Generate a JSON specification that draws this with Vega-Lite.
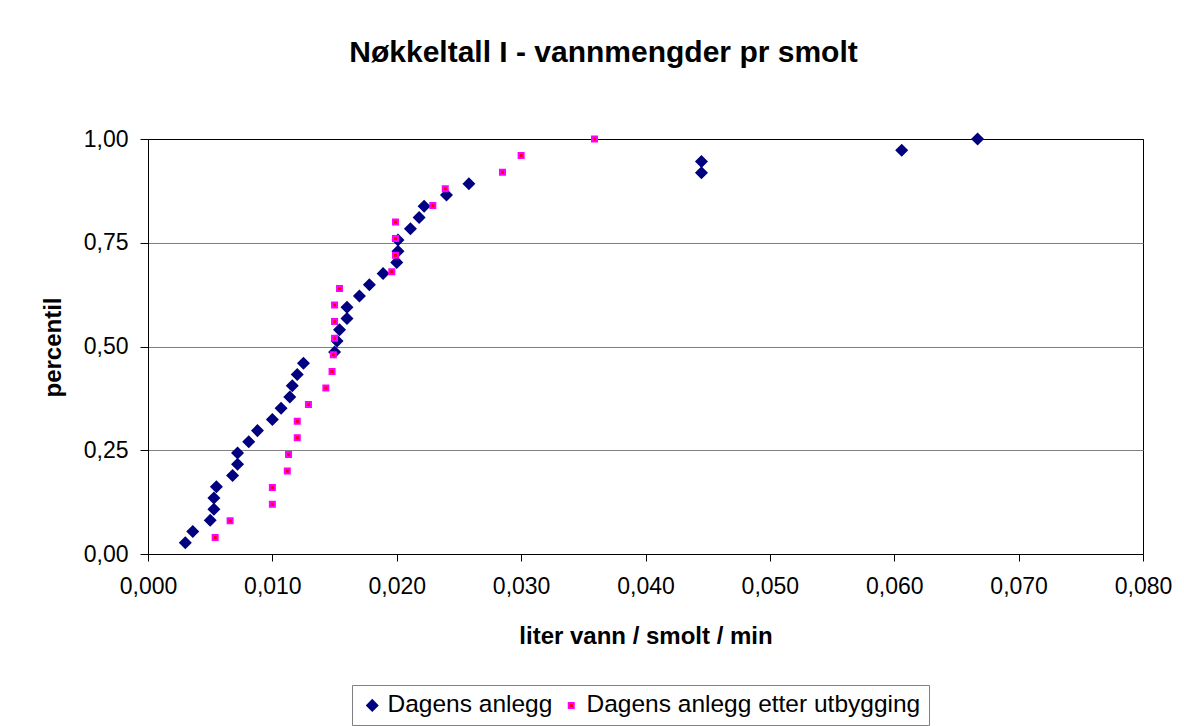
{
  "$schema": "https://vega.github.io/schema/vega-lite/v6.json",
  "width": 995,
  "height": 415,
  "autosize": {"type": "none"},
  "padding": {"left": 148, "top": 139, "right": 41, "bottom": 172},
  "background": "white",
  "config": {
    "font": "Liberation Sans",
    "view": {"stroke": "black", "strokeWidth": 1}
  },
  "title": {
    "text": "Nøkkeltall I  - vannmengder pr smolt",
    "fontSize": 30,
    "fontWeight": "bold",
    "font": "Liberation Sans",
    "color": "black",
    "anchor": "middle",
    "frame": "group",
    "baseline": "alphabetic",
    "offset": 36,
    "dx": -42
  },
  "data": {
    "values": [
      {"serie": "Dagens anlegg", "x": 0.0030, "y": 0.0270},
      {"serie": "Dagens anlegg", "x": 0.0036, "y": 0.0541},
      {"serie": "Dagens anlegg", "x": 0.0050, "y": 0.0811},
      {"serie": "Dagens anlegg", "x": 0.0053, "y": 0.1081},
      {"serie": "Dagens anlegg", "x": 0.0053, "y": 0.1351},
      {"serie": "Dagens anlegg", "x": 0.0055, "y": 0.1622},
      {"serie": "Dagens anlegg", "x": 0.0068, "y": 0.1892},
      {"serie": "Dagens anlegg", "x": 0.0072, "y": 0.2162},
      {"serie": "Dagens anlegg", "x": 0.0072, "y": 0.2432},
      {"serie": "Dagens anlegg", "x": 0.0081, "y": 0.2703},
      {"serie": "Dagens anlegg", "x": 0.0088, "y": 0.2973},
      {"serie": "Dagens anlegg", "x": 0.0100, "y": 0.3243},
      {"serie": "Dagens anlegg", "x": 0.0107, "y": 0.3514},
      {"serie": "Dagens anlegg", "x": 0.0114, "y": 0.3784},
      {"serie": "Dagens anlegg", "x": 0.0116, "y": 0.4054},
      {"serie": "Dagens anlegg", "x": 0.0120, "y": 0.4324},
      {"serie": "Dagens anlegg", "x": 0.0125, "y": 0.4595},
      {"serie": "Dagens anlegg", "x": 0.0150, "y": 0.4865},
      {"serie": "Dagens anlegg", "x": 0.0152, "y": 0.5135},
      {"serie": "Dagens anlegg", "x": 0.0154, "y": 0.5405},
      {"serie": "Dagens anlegg", "x": 0.0160, "y": 0.5676},
      {"serie": "Dagens anlegg", "x": 0.0160, "y": 0.5946},
      {"serie": "Dagens anlegg", "x": 0.0170, "y": 0.6216},
      {"serie": "Dagens anlegg", "x": 0.0178, "y": 0.6486},
      {"serie": "Dagens anlegg", "x": 0.0189, "y": 0.6757},
      {"serie": "Dagens anlegg", "x": 0.0200, "y": 0.7027},
      {"serie": "Dagens anlegg", "x": 0.0201, "y": 0.7297},
      {"serie": "Dagens anlegg", "x": 0.0201, "y": 0.7568},
      {"serie": "Dagens anlegg", "x": 0.0211, "y": 0.7838},
      {"serie": "Dagens anlegg", "x": 0.0218, "y": 0.8108},
      {"serie": "Dagens anlegg", "x": 0.0222, "y": 0.8378},
      {"serie": "Dagens anlegg", "x": 0.0240, "y": 0.8649},
      {"serie": "Dagens anlegg", "x": 0.0258, "y": 0.8919},
      {"serie": "Dagens anlegg", "x": 0.0445, "y": 0.9189},
      {"serie": "Dagens anlegg", "x": 0.0445, "y": 0.9459},
      {"serie": "Dagens anlegg", "x": 0.0606, "y": 0.9730},
      {"serie": "Dagens anlegg", "x": 0.0667, "y": 1.0},
      {"serie": "Dagens anlegg etter utbygging", "x": 0.0054, "y": 0.04},
      {"serie": "Dagens anlegg etter utbygging", "x": 0.0066, "y": 0.08},
      {"serie": "Dagens anlegg etter utbygging", "x": 0.0100, "y": 0.12},
      {"serie": "Dagens anlegg etter utbygging", "x": 0.0100, "y": 0.16},
      {"serie": "Dagens anlegg etter utbygging", "x": 0.0112, "y": 0.20},
      {"serie": "Dagens anlegg etter utbygging", "x": 0.0113, "y": 0.24},
      {"serie": "Dagens anlegg etter utbygging", "x": 0.0120, "y": 0.28},
      {"serie": "Dagens anlegg etter utbygging", "x": 0.0120, "y": 0.32},
      {"serie": "Dagens anlegg etter utbygging", "x": 0.0129, "y": 0.36},
      {"serie": "Dagens anlegg etter utbygging", "x": 0.0143, "y": 0.40},
      {"serie": "Dagens anlegg etter utbygging", "x": 0.0148, "y": 0.44},
      {"serie": "Dagens anlegg etter utbygging", "x": 0.0149, "y": 0.48},
      {"serie": "Dagens anlegg etter utbygging", "x": 0.0150, "y": 0.52},
      {"serie": "Dagens anlegg etter utbygging", "x": 0.0150, "y": 0.56},
      {"serie": "Dagens anlegg etter utbygging", "x": 0.0150, "y": 0.60},
      {"serie": "Dagens anlegg etter utbygging", "x": 0.0154, "y": 0.64},
      {"serie": "Dagens anlegg etter utbygging", "x": 0.0196, "y": 0.68},
      {"serie": "Dagens anlegg etter utbygging", "x": 0.0199, "y": 0.72},
      {"serie": "Dagens anlegg etter utbygging", "x": 0.0199, "y": 0.76},
      {"serie": "Dagens anlegg etter utbygging", "x": 0.0199, "y": 0.80},
      {"serie": "Dagens anlegg etter utbygging", "x": 0.0229, "y": 0.84},
      {"serie": "Dagens anlegg etter utbygging", "x": 0.0239, "y": 0.88},
      {"serie": "Dagens anlegg etter utbygging", "x": 0.0285, "y": 0.92},
      {"serie": "Dagens anlegg etter utbygging", "x": 0.0300, "y": 0.96},
      {"serie": "Dagens anlegg etter utbygging", "x": 0.0359, "y": 1.00}
    ]
  },
  "mark": {"type": "point", "filled": true, "strokeWidth": 2, "opacity": 1},
  "encoding": {
    "x": {
      "field": "x",
      "type": "quantitative",
      "scale": {"domain": [0, 0.08], "nice": false, "zero": false},
      "axis": {
        "title": "liter vann / smolt / min",
        "values": [0, 0.01, 0.02, 0.03, 0.04, 0.05, 0.06, 0.07, 0.08],
        "labelExpr": "replace(format(datum.value, '.3f'), '.', ',')",
        "grid": false,
        "domainColor": "black",
        "tickColor": "black",
        "tickSize": 7,
        "labelFontSize": 23,
        "labelColor": "black",
        "labelPadding": 14,
        "labelFlush": false,
        "titleFontSize": 24,
        "titleFontWeight": "bold",
        "titleColor": "black",
        "titleBaseline": "alphabetic",
        "titleY": 89
      }
    },
    "y": {
      "field": "y",
      "type": "quantitative",
      "scale": {"domain": [0, 1], "nice": false},
      "axis": {
        "title": "percentil",
        "values": [0, 0.25, 0.5, 0.75, 1],
        "labelExpr": "replace(format(datum.value, '.2f'), '.', ',')",
        "grid": true,
        "gridColor": {"condition": {"test": "datum.value === 1", "value": "black"}, "value": "#808080"},
        "gridWidth": 1,
        "domainColor": "black",
        "tickColor": "black",
        "tickSize": 8,
        "labelFontSize": 23,
        "labelColor": "black",
        "labelPadding": 12,
        "labelFlush": false,
        "titleFontSize": 24,
        "titleFontWeight": "bold",
        "titleColor": "black",
        "titleAngle": 270,
        "titleBaseline": "middle",
        "titleX": -95,
        "titleY": 208
      }
    },
    "fill": {
      "field": "serie",
      "type": "nominal",
      "scale": {"domain": ["Dagens anlegg", "Dagens anlegg etter utbygging"], "range": ["#000080", "#FF0000"]},
      "legend": {
        "title": null,
        "orient": "none",
        "direction": "horizontal",
        "legendX": 204,
        "legendY": 546,
        "labelFontSize": 24.5,
        "labelColor": "black",
        "labelFont": "Liberation Sans",
        "labelLimit": 1000,
        "padding": 8,
        "strokeColor": "#808080",
        "fillColor": "white",
        "columnPadding": 6,
        "labelOffset": 3,
        "symbolStrokeWidth": 2
      }
    },
    "stroke": {
      "field": "serie",
      "type": "nominal",
      "scale": {"domain": ["Dagens anlegg", "Dagens anlegg etter utbygging"], "range": ["#000080", "#FF00FF"]}
    },
    "shape": {
      "field": "serie",
      "type": "nominal",
      "scale": {"domain": ["Dagens anlegg", "Dagens anlegg etter utbygging"], "range": ["diamond", "square"]}
    },
    "size": {
      "field": "serie",
      "type": "nominal",
      "scale": {"domain": ["Dagens anlegg", "Dagens anlegg etter utbygging"], "range": [104, 25]}
    }
  }
}
